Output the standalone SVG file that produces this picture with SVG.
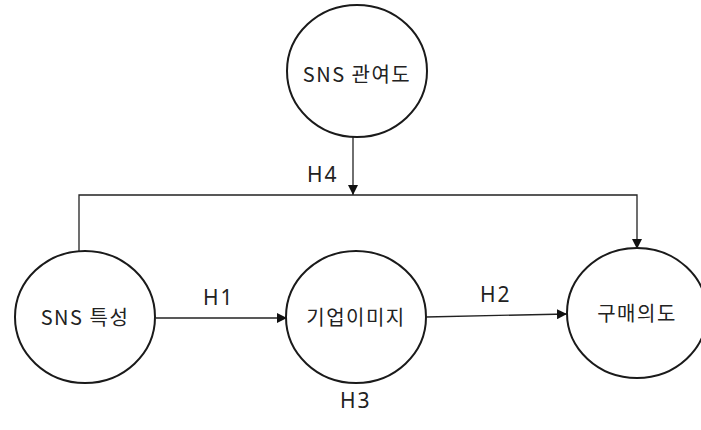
<svg xmlns="http://www.w3.org/2000/svg" width="701" height="430" viewBox="0 0 701 430">
<style>
.node ellipse{fill:#fff;stroke:#1a1a1a;stroke-width:2}
.lbl{font-family:"Noto Sans CJK KR","Noto Sans",sans-serif;font-size:20px;letter-spacing:1.5px;fill:#222;text-anchor:middle}
.h{font-family:"Noto Sans","Noto Sans CJK KR",sans-serif;font-size:21px;letter-spacing:2px;fill:#222}
.c{stroke:#222;stroke-width:1.3;fill:none}
</style>
<defs>
<marker id="ah" viewBox="0 0 10 10" refX="10" refY="5" markerWidth="10" markerHeight="10" markerUnits="userSpaceOnUse" orient="auto">
<path d="M0,0 L10,5 L0,10 z" fill="#111"/>
</marker>
</defs>
<rect width="701" height="430" fill="#fff"/>
<g id="connectors">
<path class="c" d="M353,137 V195" marker-end="url(#ah)"/>
<path class="c" d="M79,252 V195 H637 V249" marker-end="url(#ah)"/>
<path class="c" d="M156,318 H287" marker-end="url(#ah)"/>
<path class="c" d="M426,317 L567,314" marker-end="url(#ah)"/>
</g>
<g id="n-involvement" class="node">
<ellipse cx="357" cy="71" rx="70" ry="66"/>
<text class="lbl" x="357" y="82">SNS 관여도</text>
</g>
<g id="n-sns" class="node">
<ellipse cx="85" cy="317" rx="70" ry="66"/>
<text class="lbl" x="85" y="325">SNS 특성</text>
</g>
<g id="n-image" class="node">
<ellipse cx="356" cy="317" rx="70" ry="66"/>
<text class="lbl" x="356" y="325">기업이미지</text>
</g>
<g id="n-purchase" class="node">
<ellipse cx="637" cy="313" rx="70" ry="65"/>
<text class="lbl" x="637" y="321">구매의도</text>
</g>
<g id="labels">
<text class="h" x="307" y="182">H4</text>
<text class="h" x="203" y="305">H1</text>
<text class="h" x="480" y="302">H2</text>
<text class="h" x="340" y="408">H3</text>
</g>
</svg>
